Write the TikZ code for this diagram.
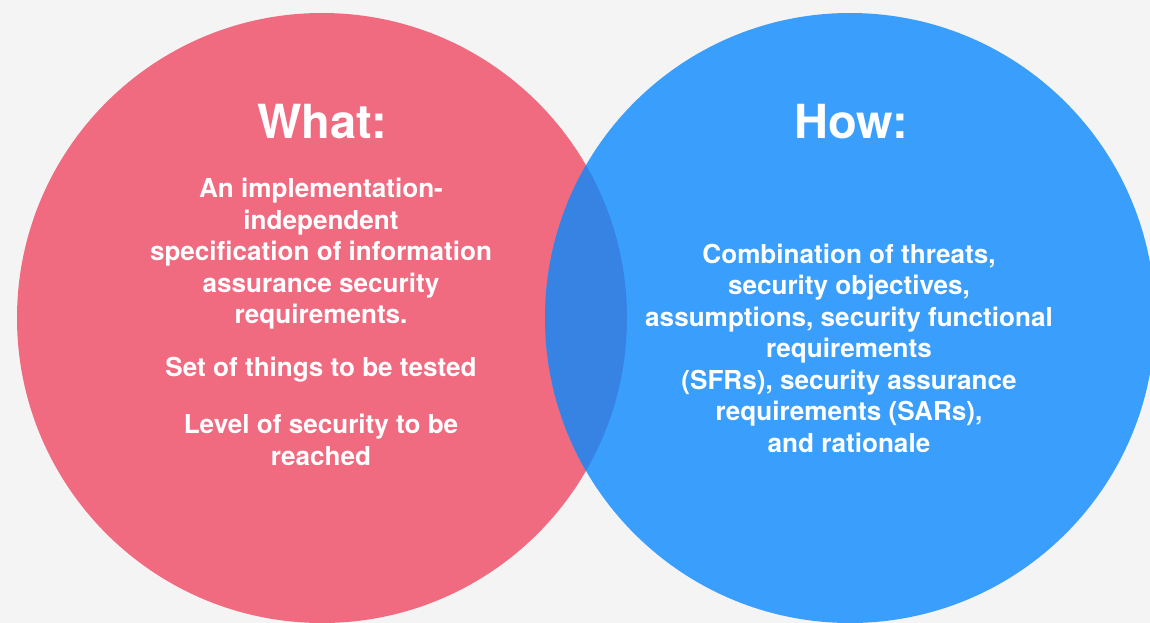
\documentclass[tikz,border=0pt]{standalone}
\usepackage{fontspec}
\setmainfont{TeX Gyre Heros}
\definecolor{bg}{HTML}{F4F4F4}
\definecolor{pinkc}{HTML}{F06A80}
\definecolor{bluec}{HTML}{3A9EFC}
\definecolor{overc}{HTML}{3783E3}
\tikzset{
  title/.style={text=white, font=\fontsize{47}{54}\selectfont\bfseries, inner sep=0pt},
  body/.style={text=white, font=\fontsize{26.1}{31.5}\selectfont\bfseries, align=center, inner sep=0pt}
}
\begin{document}
\begin{tikzpicture}[x=1pt,y=-1pt]
\useasboundingbox (0,0) rectangle (1150,623);
\fill[bg] (0,0) rectangle (1150,623);
\fill[pinkc] (322,318) circle (305pt);
\fill[bluec] (850,318) circle (305pt);
\begin{scope}
  \clip (322,318) circle (305pt);
  \fill[overc] (850,318) circle (305pt);
\end{scope}
\node[title] (what) at (322,122) {What:};
\node[title] (how) at (851,122) {How:};
\node[body] (def) at (321,254) {An implementation-\\independent\\specification of information\\assurance security\\requirements.};
\node[body] (set) at (321,370) {Set of things to be tested};
\node[body] (lvl) at (321,440) {Level of security to be\\reached};
\node[body] (comb) at (849,348) {Combination of threats,\\security objectives,\\assumptions, security functional\\requirements\\(SFRs), security assurance\\requirements (SARs),\\and rationale};
\end{tikzpicture}
\end{document}
